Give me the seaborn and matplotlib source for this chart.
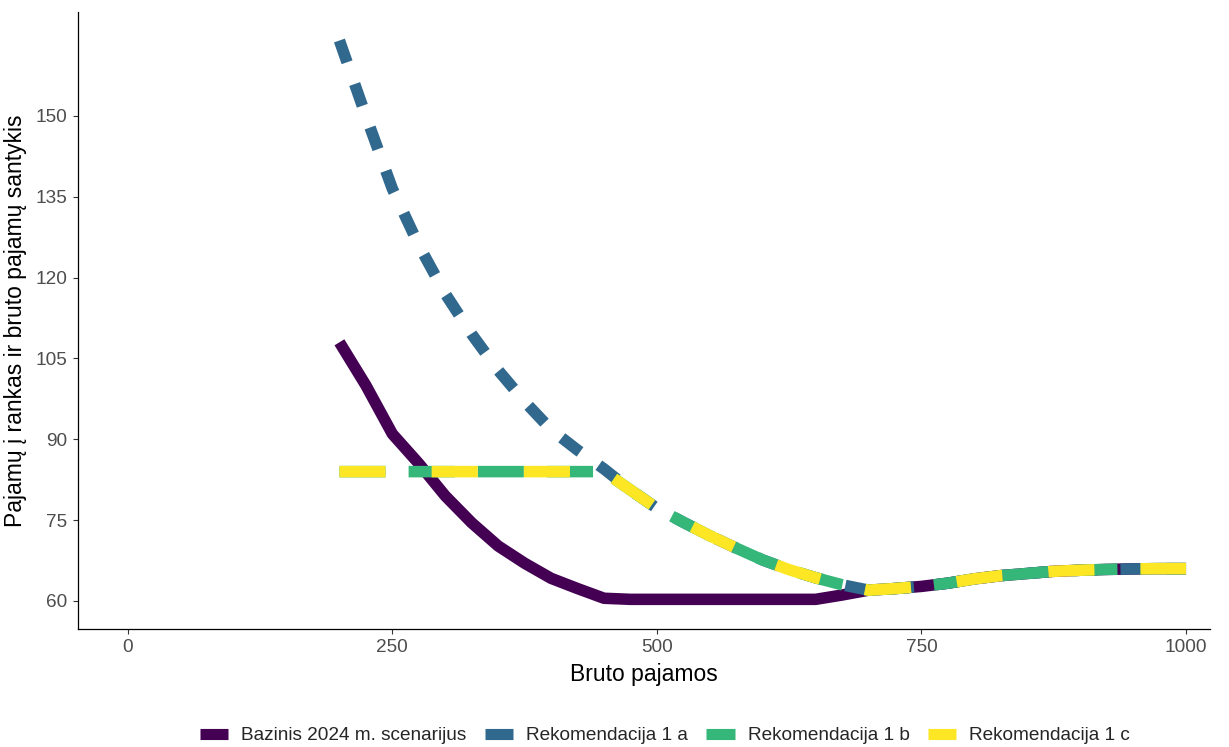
import matplotlib
matplotlib.use("Agg")
import matplotlib.pyplot as plt
from matplotlib.lines import Line2D
import seaborn as sns
import pandas as pd
import numpy as np

# ---- data ----
series_names = ["Bazinis 2024 m. scenarijus", "Rekomendacija 1 a",
                "Rekomendacija 1 b", "Rekomendacija 1 c"]
x_vals = [200, 225, 250, 275, 300, 325, 350, 375, 400, 425, 450, 475, 500,
          525, 550, 575, 600, 625, 650, 675, 700, 725, 750, 775, 800, 825,
          850, 875, 900, 925, 950, 975, 1000]
bazinis = [108, 100, 91, 85.5, 79.5, 74.5, 70.2, 67, 64.2, 62.3, 60.5, 60.3,
           60.3, 60.3, 60.3, 60.3, 60.3, 60.3, 60.3, 61.1, 62.0, 62.3, 62.7,
           63.3, 64.1, 64.7, 65.1, 65.5, 65.7, 65.85, 65.95, 66.0, 66.0]
rek_1a = [164, 150, 136.5, 126, 117, 109.5, 102.8, 97, 91.8, 88, 84.5, 80.6,
          77.2, 74.6, 72.1, 69.8, 67.6, 65.8, 64.3, 63.0, 62.0, 62.3, 62.7,
          63.3, 64.1, 64.7, 65.1, 65.5, 65.7, 65.85, 65.95, 66.0, 66.0]
rek_1b = [84, 84, 84, 84, 84, 84, 84, 84, 84, 84, 84, 80.6,
          77.2, 74.6, 72.1, 69.8, 67.6, 65.8, 64.3, 63.0, 62.0, 62.3, 62.7,
          63.3, 64.1, 64.7, 65.1, 65.5, 65.7, 65.85, 65.95, 66.0, 66.0]
rek_1c = [84, 84, 84, 84, 84, 84, 84, 84, 84, 84, 84, 80.6,
          77.2, 74.6, 72.1, 69.8, 67.6, 65.8, 64.3, 63.0, 62.0, 62.3, 62.7,
          63.3, 64.1, 64.7, 65.1, 65.5, 65.7, 65.85, 65.95, 66.0, 66.0]
x_ticks = [0, 250, 500, 750, 1000]
y_ticks = [60, 75, 90, 105, 120, 135, 150]

colors = ["#440154", "#31688E", "#35B779", "#FDE725"]
dash_styles = ["", (2, 2), (4, 2), (4, 4)]

frames = []
for name, vals in zip(series_names, [bazinis, rek_1a, rek_1b, rek_1c]):
    frames.append(pd.DataFrame({"x": x_vals, "y": vals, "series": name}))
df = pd.concat(frames, ignore_index=True)

sns.set_theme(style="ticks")
plt.rcParams["font.family"] = ["Liberation Sans", "DejaVu Sans"]

fig = plt.figure(figsize=(12.29, 7.47), dpi=100)
ax = fig.add_axes([0.0635, 0.158, 0.921, 0.826])

sns.lineplot(data=df, x="x", y="y", hue="series", style="series",
             hue_order=series_names, style_order=series_names,
             palette=dict(zip(series_names, colors)),
             dashes=dict(zip(series_names, dash_styles)),
             linewidth=8.3, estimator=None, sort=False, legend=False, ax=ax)
for ln in ax.lines:
    ln.set_solid_capstyle("butt")
    ln.set_dash_capstyle("butt")

ax.set_xlim(-47, 1022.6)
ax.set_ylim(54.8, 169.3)
ax.set_xticks(x_ticks)
ax.set_yticks(y_ticks)
ax.set_xticklabels([str(v) for v in x_ticks])
ax.set_yticklabels([str(v) for v in y_ticks])
sns.despine(ax=ax)
for s in ["left", "bottom"]:
    ax.spines[s].set_color("black")
    ax.spines[s].set_linewidth(0.9)
ax.tick_params(axis="both", colors="#333333", length=3.5, width=0.8,
               labelsize=13.7, labelcolor="#4D4D4D", pad=4)
ax.set_xlabel("Bruto pajamos", fontsize=16.5, color="black", labelpad=5)
ax.set_ylabel("Pajamų į rankas ir bruto pajamų santykis", fontsize=16.5,
              color="black", labelpad=6)

handles = [Line2D([0], [0], color=c, lw=8, solid_capstyle="butt") for c in colors]
fig.legend(handles, series_names, loc="center", bbox_to_anchor=(0.541, 0.015),
           ncol=4, frameon=False, fontsize=13.7, handlelength=1.5,
           handletextpad=0.68, columnspacing=0.95)

fig.savefig("out.png", dpi=100)
